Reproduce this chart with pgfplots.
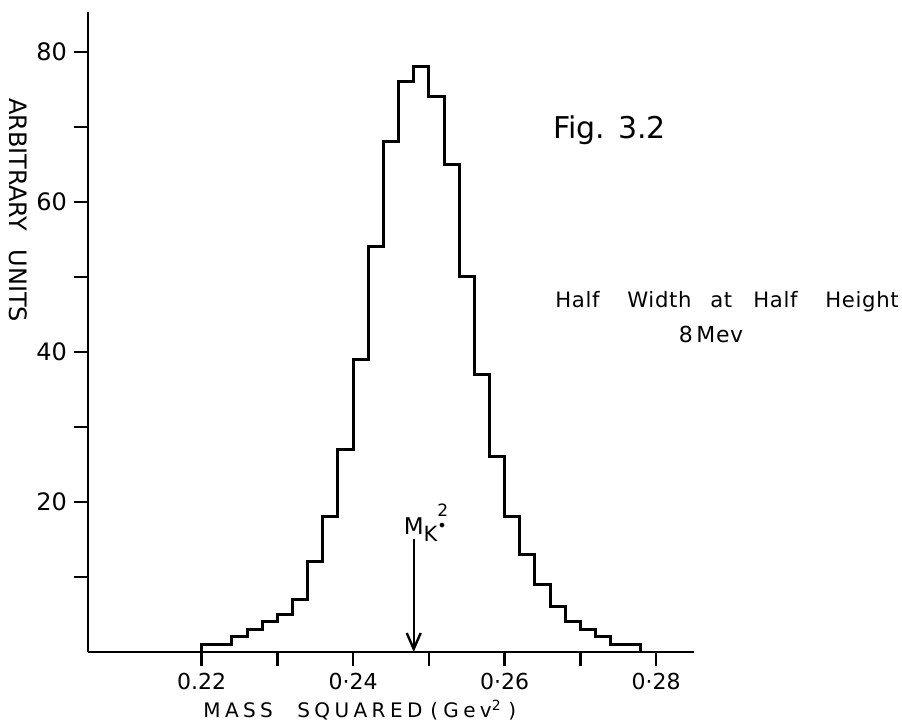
\documentclass[border=0pt]{standalone}
\usepackage{fontspec}
\setmainfont{DejaVu Sans}
\newfontfamily\lsfont[LetterSpace=22]{DejaVu Sans}
\newfontfamily\lsfontb[LetterSpace=3]{DejaVu Sans}
\usepackage{pgfplots}
\pgfplotsset{compat=1.18}
\usetikzlibrary{arrows.meta}
\begin{document}
\begin{tikzpicture}[
  lbl/.style={anchor=base west, inner sep=0pt, font=\lsfont\fontsize{10}{11}\selectfont},
  hw/.style={anchor=base west, inner sep=0pt, font=\lsfontb\fontsize{10.6}{12}\selectfont},
]
\path[use as bounding box] (-44pt,-37pt) rectangle (407pt,326pt);
\begin{axis}[
  at={(0,0)}, anchor=south west,
  scale only axis, width=303pt, height=320pt,
  xmin=0.205, xmax=0.285, ymin=0, ymax=85.33,
  axis lines*=left,
  axis line style={-, line width=1.2pt},
  clip=false,
  tick align=outside,
  major tick length=7pt, minor tick length=7pt,
  every tick/.style={black, line width=1.2pt},
  xtick={0.22,0.24,0.26,0.28},
  xticklabels={0.22, 0·24, 0·26, 0·28},
  minor xtick={0.23,0.25,0.27},
  ytick={20,40,60,80},
  yticklabels={20,40,60,80},
  minor ytick={10,30,50,70},
  xticklabel style={font=\fontsize{11}{12}\selectfont},
  yticklabel style={font=\fontsize{12}{13}\selectfont},
]
\addplot[const plot mark left, line width=1.5pt, black] coordinates {
(0.220,0) (0.220,1) (0.222,1) (0.224,2) (0.226,3) (0.228,4) (0.230,5)
(0.232,7) (0.234,12) (0.236,18) (0.238,27) (0.240,39) (0.242,54)
(0.244,68) (0.246,76) (0.248,78) (0.250,74) (0.252,65) (0.254,50)
(0.256,37) (0.258,26) (0.260,18) (0.262,13) (0.264,9) (0.266,6)
(0.268,4) (0.270,3) (0.272,2) (0.274,1) (0.276,1) (0.278,0)
};
\addplot[line width=1.2pt, black, -{Straight Barb[length=8pt,width=7pt,line width=1.2pt]}] coordinates {(0.248,15) (0.248,0)};
\node[anchor=base west, inner sep=0pt] at (rel axis cs:0.5205,0.184)
  {{\fontsize{11.5}{12}\selectfont M}\raisebox{-3.5pt}{\fontsize{10.5}{11}\selectfont K}\raisebox{1.5pt}{\rlap{\fontsize{8}{8}\selectfont •}}\raisebox{9pt}{\fontsize{8.5}{9}\selectfont 2}};
\node[anchor=base west, inner sep=0pt] at (rel axis cs:0.7673,0.8031)
  {\fontsize{15}{16}\selectfont Fig. 3.2};
\node[hw] at (rel axis cs:0.7706,0.5375) {Half};
\node[hw] at (rel axis cs:0.8894,0.5375) {Width};
\node[hw] at (rel axis cs:1.0264,0.5375) {at};
\node[hw] at (rel axis cs:1.0974,0.5375) {Half};
\node[hw] at (rel axis cs:1.2162,0.5375) {Height};
\node[anchor=base, inner sep=0pt] at (rel axis cs:1.0281,0.4828)
  {\lsfontb\fontsize{11}{12}\selectfont 8\,Mev};
\node[lbl] at (rel axis cs:0.1898,-0.1031) {MASS};
\node[lbl] at (rel axis cs:0.3449,-0.1031) {SQUARED};
\node[lbl] at (rel axis cs:0.5644,-0.1031) {(};
\node[lbl] at (rel axis cs:0.5858,-0.1031) {Gev\textsuperscript{2}};
\node[lbl] at (rel axis cs:0.6931,-0.1031) {)};
\node[rotate=-90, anchor=center, inner sep=0pt] at (rel axis cs:-0.1155,0.6906)
  {\fontsize{12}{13}\selectfont\makebox[112pt][s]{ARBITRARY UNITS}};
\end{axis}
\end{tikzpicture}
\end{document}
